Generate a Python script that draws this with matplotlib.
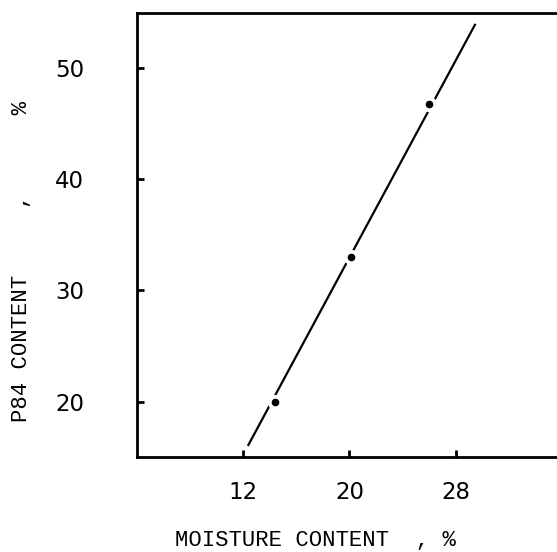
"""
P84 content vs moisture content, single straight-line fit with three measured points.
"""

import matplotlib
matplotlib.use('Agg')
import matplotlib.pyplot as plt

# Data
moisture = [14.4, 20.1, 26.0]       # measured points, x (%)
p84 = [20.0, 33.0, 46.8]            # measured points, y (%)
fit_x = [12.35, 29.5]               # ends of the drawn fit line
fit_y = [16.0, 54.0]
x_ticks = [12, 20, 28]
y_ticks = [20, 30, 40, 50]

LABEL_FONT = 'Liberation Mono'      # typewriter look for axis titles
TICK_FONT = 'DejaVu Sans'

fig = plt.figure(figsize=(5.57, 5.52), dpi=100)
# axes run slightly past the right edge of the figure, like the scanned original
ax = fig.add_axes([0.246, 0.172, 0.7625, 0.805])

# Fit line, with white discs punched around each point to break the line
ax.plot(fit_x, fit_y, color='black', linewidth=1.6, solid_capstyle='butt', zorder=2)
ax.plot(moisture, p84, linestyle='none', marker='o', markersize=11,
        markerfacecolor='white', markeredgecolor='none', zorder=3)
ax.plot(moisture, p84, linestyle='none', marker='o', markersize=4.5,
        color='black', zorder=4)

ax.set_xlim(4, 36)
ax.set_ylim(15, 55)
ax.set_xticks(x_ticks)
ax.set_yticks(y_ticks)

for side in ['left', 'bottom', 'top']:
    ax.spines[side].set_linewidth(2)
ax.spines['right'].set_visible(False)

ax.tick_params(axis='both', direction='in', length=5, width=2)
ax.tick_params(axis='x', pad=17)
ax.tick_params(axis='y', pad=38)
for lbl in ax.get_xticklabels() + ax.get_yticklabels():
    lbl.set_fontfamily(TICK_FONT)
    lbl.set_fontsize(16.5)

ax.set_xlabel('MOISTURE CONTENT  , %', fontfamily=LABEL_FONT, fontsize=16)
ax.xaxis.label.set_va('center')
ax.xaxis.set_label_coords(0.419, -0.187)

ax.set_ylabel('P84 CONTENT     ,      %', fontfamily=LABEL_FONT, fontsize=16)
ax.yaxis.label.set_va('center')
ax.yaxis.set_label_coords(-0.271, 0.439)

plt.savefig('out.png', dpi=100)
plt.close()
